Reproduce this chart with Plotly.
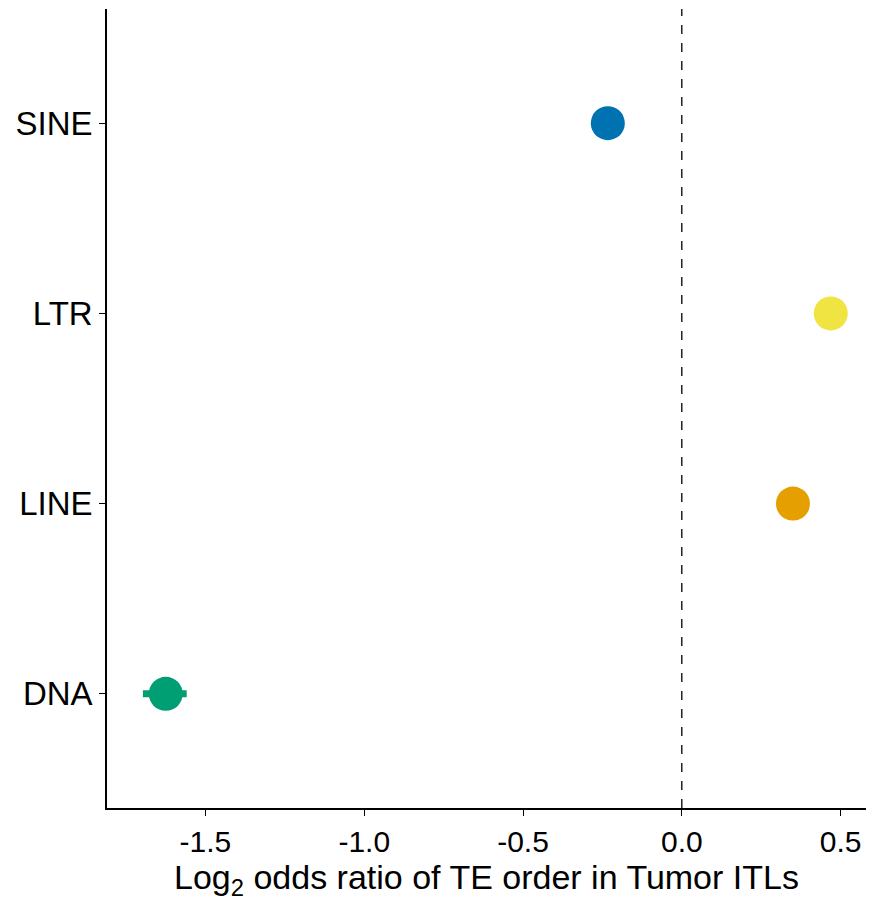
import plotly.graph_objects as go

# TE order log2 odds ratios with confidence bounds
orders = ["DNA", "LINE", "LTR", "SINE"]
log2_or = [-1.625, 0.350, 0.469, -0.233]
ci_low = [-1.697, 0.330, 0.450, -0.255]
ci_high = [-1.559, 0.370, 0.488, -0.211]
colors = ["#009E73", "#E69F00", "#F0E442", "#0072B2"]

x_ticks = [-1.5, -1.0, -0.5, 0.0, 0.5]
x_tick_text = ["-1.5", "-1.0", "-0.5", "0.0", "0.5"]
x_title = "Log<sub>2</sub> odds ratio of TE order in Tumor ITLs"

fig = go.Figure()
for i, name in enumerate(orders):
    fig.add_trace(go.Scatter(
        x=[log2_or[i]], y=[i + 1],
        mode="markers",
        marker=dict(size=34, color=colors[i], line=dict(width=0)),
        error_x=dict(
            type="data", symmetric=False,
            array=[ci_high[i] - log2_or[i]],
            arrayminus=[log2_or[i] - ci_low[i]],
            color=colors[i], thickness=7, width=0,
        ),
        showlegend=False,
        name=name,
    ))

fig.add_shape(type="line", xref="x", yref="paper", x0=0, x1=0, y0=0, y1=1,
              line=dict(color="black", width=1.3, dash="dash"))

# x-axis title placed at the bottom edge
fig.add_annotation(text=x_title, xref="paper", yref="paper",
                   x=0.5, y=-0.1175, xanchor="center", yanchor="bottom",
                   showarrow=False, borderpad=0,
                   font=dict(size=34, color="black"))

fig.update_layout(
    width=871, height=902,
    margin=dict(l=107, r=5, t=9, b=94),
    plot_bgcolor="white", paper_bgcolor="white",
    font=dict(family="Liberation Sans, Arial, sans-serif", color="black", size=31),
    xaxis=dict(
        range=[-1.81, 0.58],
        tickvals=x_ticks, ticktext=x_tick_text,
        ticks="outside", ticklen=6, tickwidth=1.3, tickcolor="black",
        showline=True, linecolor="black", linewidth=1.5,
        showgrid=False, zeroline=False,
        tickfont=dict(size=30, color="black"),
    ),
    yaxis=dict(
        range=[0.4, 4.6],
        tickvals=[1, 2, 3, 4], ticktext=orders,
        ticks="outside", ticklen=6, tickwidth=1.3, tickcolor="black",
        showline=True, linecolor="black", linewidth=1.5,
        showgrid=False, zeroline=False,
        tickfont=dict(size=33, color="black"),
    ),
)

fig.write_html("out.html")
